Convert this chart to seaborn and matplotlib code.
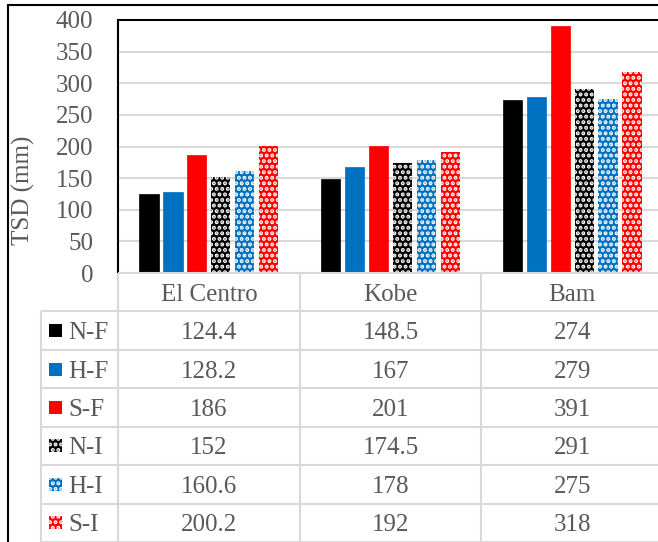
"""TSD per ground motion record, Excel-style bar chart with data table underneath."""

import matplotlib
matplotlib.use("Agg")
import matplotlib.pyplot as plt
from matplotlib.patches import Rectangle
import pandas as pd
import seaborn as sns


records = ["El Centro", "Kobe", "Bam"]
cases = ["N-F", "H-F", "S-F", "N-I", "H-I", "S-I"]
n_f = [124.4, 148.5, 274]
h_f = [128.2, 167, 279]
s_f = [186, 201, 391]
n_i = [152, 174.5, 291]
h_i = [160.6, 178, 275]
s_i = [200.2, 192, 318]
y_ticks = [0, 50, 100, 150, 200, 250, 300, 350, 400]

BLACK = "#000000"
BLUE = "#0070C0"
RED = "#FF0000"
case_colors = [BLACK, BLUE, RED, BLACK, BLUE, RED]
hatched = [False, False, False, True, True, True]

TEXT_GREY = "#595959"
LINE_GREY = "#D9D9D9"
FONT_SIZE = 18

W, H = 658, 542


def px_box(x0, y0, x1, y1):
    """Pixel box (top-left origin) -> figure fraction rect."""
    return [x0 / W, 1 - y1 / H, (x1 - x0) / W, (y1 - y0) / H]


sns.set_theme(style="white")
plt.rcParams["font.family"] = ["Liberation Serif", "DejaVu Serif"]
plt.rcParams["hatch.linewidth"] = 2.0

values = [n_f, h_f, s_f, n_i, h_i, s_i]
df = pd.DataFrame(
    [{"record": r, "case": c, "tsd": v[i]} for c, v in zip(cases, values) for i, r in enumerate(records)]
)

fig = plt.figure(figsize=(W / 100, H / 100), dpi=100)

# ---- bar chart ----
ax = fig.add_axes(px_box(118, 20, 663, 273))
sns.barplot(
    data=df, x="record", y="tsd", hue="case",
    order=records, hue_order=cases,
    palette=dict(zip(cases, case_colors)),
    width=0.79, gap=0.2, saturation=1, legend=False, ax=ax,
)
for container, color, hatch in zip(ax.containers, case_colors, hatched):
    for bar in container:
        bar.set_facecolor(color)
        if hatch:
            bar.set_hatch("...")
            bar.set_edgecolor("white")
            bar.set_linewidth(0)
        else:
            bar.set_edgecolor(color)
            bar.set_linewidth(0.5)

ax.set_xlim(-0.5, 2.5)
ax.set_ylim(0, 400)
ax.set_yticks(y_ticks)
ax.set_xticks([])
ax.set_xlabel("")
ax.tick_params(axis="y", length=0, pad=18, labelsize=FONT_SIZE, labelcolor=TEXT_GREY)
ax.yaxis.grid(True, color=LINE_GREY, lw=1.5)
ax.set_axisbelow(True)
for side in ["bottom", "right"]:
    ax.spines[side].set_visible(False)
for side in ["left", "top"]:
    ax.spines[side].set_color("black")
    ax.spines[side].set_linewidth(1.5)
ax.set_ylabel("TSD (mm)", fontsize=FONT_SIZE, color=TEXT_GREY)
ax.yaxis.set_label_coords((35 - 118) / 545, (273 - 190) / 253)

# ---- data table ----
col_px = 545 / 3
x_left = -0.5 - 77 / col_px
tx = fig.add_axes(px_box(41, 273, 663, 542))
tx.set_xlim(x_left, 2.5)
tx.set_ylim(len(cases) + 1, 0)
tx.axis("off")

n_rows = len(cases) + 1
tx.hlines(0, -0.5, 2.5, color=LINE_GREY, lw=1.5, clip_on=False)
tx.hlines(range(1, n_rows + 1), x_left, 2.5, color=LINE_GREY, lw=1.5, clip_on=False)
tx.vlines(x_left, 1, n_rows, color=LINE_GREY, lw=1.5, clip_on=False)
tx.vlines([-0.5, 0.5, 1.5], 0, n_rows, color=LINE_GREY, lw=1.5, clip_on=False)

for i, rec in enumerate(records):
    tx.text(i, 0.5, rec, ha="center", va="center_baseline", fontsize=FONT_SIZE, color=TEXT_GREY)

key_w = 13 / col_px
key_h = 13 / 38.4
for j, (case, vals, color, hatch) in enumerate(zip(cases, values, case_colors, hatched)):
    yc = j + 1.5
    key = Rectangle(
        (x_left + 8 / col_px, yc - key_h / 2), key_w, key_h,
        facecolor=color, edgecolor="white" if hatch else color,
        lw=0, hatch="..." if hatch else None,
    )
    tx.add_patch(key)
    tx.text(x_left + 27 / col_px, yc, case, ha="left", va="center_baseline",
            fontsize=FONT_SIZE, color=TEXT_GREY)
    for i, v in enumerate(vals):
        tx.text(i, yc, f"{v:g}", ha="center", va="center_baseline",
                fontsize=FONT_SIZE, color=TEXT_GREY)

# outer chart border (runs off the right and bottom edges)
fig.add_artist(Rectangle((8 / W, -1), 5, 2 - 5 / H, transform=fig.transFigure,
                         fill=False, ec="black", lw=1.5))

fig.savefig("out.png", dpi=100)
